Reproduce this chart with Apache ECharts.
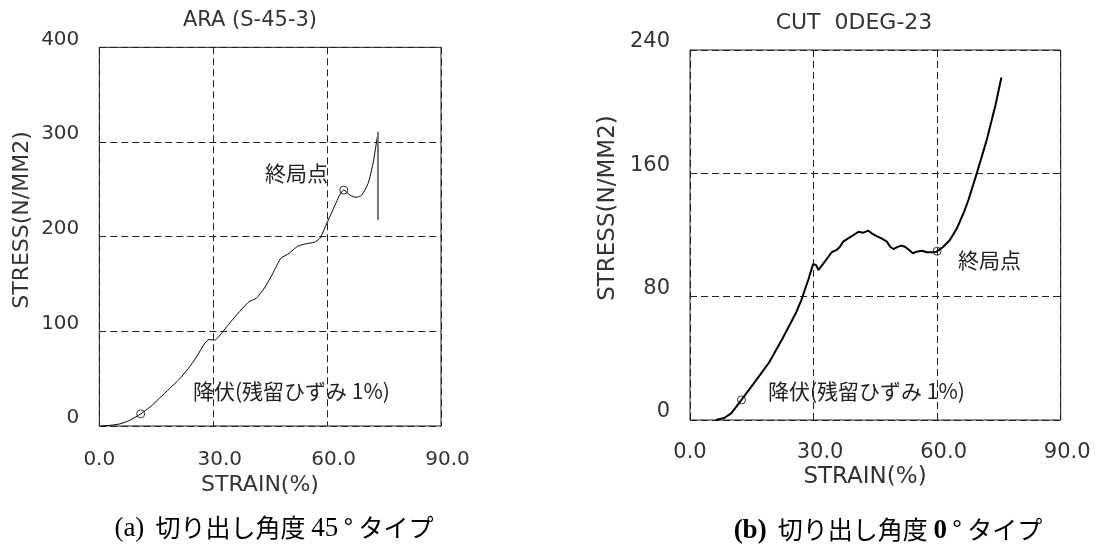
<!DOCTYPE html>
<html>
<head>
<meta charset="utf-8">
<script src="https://cdn.jsdelivr.net/npm/echarts@6/dist/echarts.min.js"></script>
<style>
  html, body { margin: 0; padding: 0; background: #fff; }
  #main { width: 1098px; height: 544px; }
</style>
</head>
<body>
<div id="main"></div>
<script>
// (a) 45度タイプ ARA (S-45-3)
var leftStrain = [0.5, 3, 5.4, 8, 10.9, 13.5, 15.9, 18.5, 21.2, 23.5, 25.6, 27.8, 28.9, 30.4, 32.2, 34, 36, 38, 39.5, 41.3, 43.5, 45.6, 47.8, 50, 52.2, 54.5, 56.6, 58.1, 60.3, 62.5, 63.3, 64.4, 66, 67.7, 69.1, 70.8, 72.1, 73.4];
var leftStress = [0, 0.8, 2.2, 6, 12.8, 20.5, 29.5, 39.5, 50, 61, 73, 87.5, 91.3, 90.8, 97.9, 107, 116.5, 125.5, 131.5, 134.8, 145.8, 160.4, 177, 182.4, 189.7, 192.5, 194.1, 198.2, 217.5, 236.9, 243.9, 249.2, 243.9, 241.5, 243.9, 256.3, 277.4, 310];
var leftCapStrain = [73.4, 73.4];
var leftCapStress = [217.5, 310.8];
var leftMarkStrain = [10.9, 64.4];
var leftMarkStress = [12.8, 249.2];

// (b) 0度タイプ CUT 0DEG-23
var rightStrain = [6.25, 8.3, 10, 12.5, 15.8, 19.2, 22.5, 25.8, 27.1, 28.7, 29.9, 30.6, 31.2, 32.4, 33.6, 34.4, 35.6, 36.4, 37.2, 38.4, 39.7, 40.9, 42.1, 43.3, 44.1, 45.3, 46.5, 47.8, 48.6, 49.4, 50.2, 51.2, 52.2, 53.2, 54.1, 55, 56.3, 57.5, 59.1, 59.9, 61.5, 63.1, 64.8, 66.4, 67.6, 69.6, 72.1, 74.2, 75.6];
var rightStress = [0, 1.3, 4.3, 13, 24.9, 37.3, 53, 69.9, 78.3, 90.8, 101.2, 100.5, 97.3, 101.6, 105.9, 108.8, 110.3, 112.4, 115.7, 117.8, 120, 122.1, 121.5, 122.8, 121.1, 119.3, 117.8, 115.7, 112.4, 110.9, 112, 113.1, 112.4, 110.3, 108.1, 109.2, 109.8, 108.8, 108.8, 109.2, 112.4, 116.8, 124.3, 134.1, 142.7, 159.8, 182.2, 204.7, 222.2];
var rightMarkStrain = [12.5, 60];
var rightMarkStress = [13, 109.5];

var xTicks = [0, 30, 60, 90];
var leftYTicks = [0, 100, 200, 300, 400];
var rightYTicks = [0, 80, 160, 240];

function zip(xs, ys) {
    var out = [];
    for (var i = 0; i < xs.length; i++) out.push([xs[i], ys[i]]);
    return out;
}

var plotFont = 'DejaVu Sans';
var ink = '#333';

function xAxisCfg(idx, size, margin) {
    return {
        gridIndex: idx, type: 'value',
        min: xTicks[0], max: xTicks[xTicks.length - 1], interval: 30,
        axisLine: { show: false }, axisTick: { show: false },
        splitLine: { show: true, lineStyle: { color: '#222', width: 1, type: [7, 4] } },
        axisLabel: {
            margin: margin, color: ink,
            formatter: function (v) {
                return v === 0 ? '{z|0.0}' : '{n|' + v.toFixed(1) + '}';
            },
            rich: {
                z: { fontFamily: plotFont, fontSize: size, color: ink },
                n: { fontFamily: plotFont, fontSize: size, color: ink, padding: [0, 0, 0, 13] }
            }
        }
    };
}

function yAxisCfg(idx, ticks, size) {
    return {
        gridIndex: idx, type: 'value',
        min: ticks[0], max: ticks[ticks.length - 1], interval: ticks[1] - ticks[0],
        axisLine: { show: false }, axisTick: { show: false },
        splitLine: { show: true, lineStyle: { color: '#222', width: 1, type: [7, 4] } },
        axisLabel: {
            margin: 20, color: ink, fontFamily: plotFont, fontSize: size,
            verticalAlign: 'bottom', lineHeight: 16
        }
    };
}

function plotText(x, y, text, size, rot) {
    return {
        type: 'text', x: x, y: y, rotation: rot || 0,
        style: {
            text: text, fill: ink, font: size + 'px "' + plotFont + '"',
            textAlign: 'center', textVerticalAlign: 'middle'
        }
    };
}

function jpText(x, y, text) {
    return {
        type: 'text', x: x, y: y,
        style: {
            text: text, fill: '#222', font: '21px "Noto Sans CJK JP"',
            textAlign: 'left', textVerticalAlign: 'middle'
        }
    };
}

function caption(x, y, tag, num, bold) {
    return {
        type: 'text', x: x, y: y,
        style: {
            text: '{s|' + tag + '}{j|  切り出し角度 }{s|' + num + '}{j| ° タイプ}',
            textAlign: 'center', textVerticalAlign: 'middle',
            rich: {
                s: { fontFamily: 'Liberation Serif', fontSize: 27, fontWeight: bold ? 'bold' : 'normal', fill: '#000', lineHeight: 30, padding: [4, 0, 0, 0] },
                j: { fontFamily: 'Noto Sans CJK JP', fontSize: 25, fill: '#000', lineHeight: 30 }
            }
        }
    };
}

var chart = echarts.init(document.getElementById('main'), null, { renderer: 'canvas' });
var option = {
    backgroundColor: '#fff',
    animation: false,
    grid: [
        { left: 99.3, top: 47.3, width: 341.7, height: 378.7, show: true, borderColor: '#222', borderWidth: 1, backgroundColor: 'transparent' },
        { left: 690, top: 50, width: 370.7, height: 370, show: true, borderColor: '#222', borderWidth: 1, backgroundColor: 'transparent' }
    ],
    xAxis: [xAxisCfg(0, 20, 24), xAxisCfg(1, 21, 22)],
    yAxis: [yAxisCfg(0, leftYTicks, 20), yAxisCfg(1, rightYTicks, 21)],
    graphic: [
        plotText(250, 21, 'ARA (S-45-3)', 21),
        plotText(854, 23, 'CUT  0DEG-23', 22),
        plotText(22, 220, 'STRESS(N/MM2)', 22, Math.PI / 2),
        plotText(608, 208, 'STRESS(N/MM2)', 23, Math.PI / 2),
        plotText(260, 485, 'STRAIN(%)', 22),
        plotText(865, 477, 'STRAIN(%)', 23),
        jpText(265, 173, '終局点'),
        jpText(193, 391, '降伏(残留ひずみ 1%)'),
        jpText(958, 260, '終局点'),
        jpText(768, 391, '降伏(残留ひずみ 1%)'),
        caption(274, 527, '(a)', '45', false),
        caption(888, 529, '(b)', '0', true)
    ],
    series: [
        {
            type: 'line', xAxisIndex: 0, yAxisIndex: 0,
            data: zip(leftStrain, leftStress), showSymbol: false, smooth: 0.2,
            lineStyle: { color: '#000', width: 1 }
        },
        {
            type: 'line', xAxisIndex: 0, yAxisIndex: 0,
            data: zip(leftCapStrain, leftCapStress), showSymbol: false,
            lineStyle: { color: '#777', width: 2 }
        },
        {
            type: 'scatter', xAxisIndex: 0, yAxisIndex: 0,
            data: zip(leftMarkStrain, leftMarkStress), symbol: 'circle', symbolSize: 8,
            itemStyle: { color: 'transparent', borderColor: '#000', borderWidth: 1 }
        },
        {
            type: 'line', xAxisIndex: 1, yAxisIndex: 1,
            data: zip(rightStrain, rightStress), showSymbol: false,
            lineStyle: { color: '#000', width: 2 }
        },
        {
            type: 'scatter', xAxisIndex: 1, yAxisIndex: 1,
            data: zip(rightMarkStrain, rightMarkStress), symbol: 'circle', symbolSize: 8,
            itemStyle: { color: 'transparent', borderColor: '#000', borderWidth: 1 }
        }
    ]
};
chart.setOption(option);
window.onresize = function () {
    chart.resize();
};
</script>
</body>
</html>
